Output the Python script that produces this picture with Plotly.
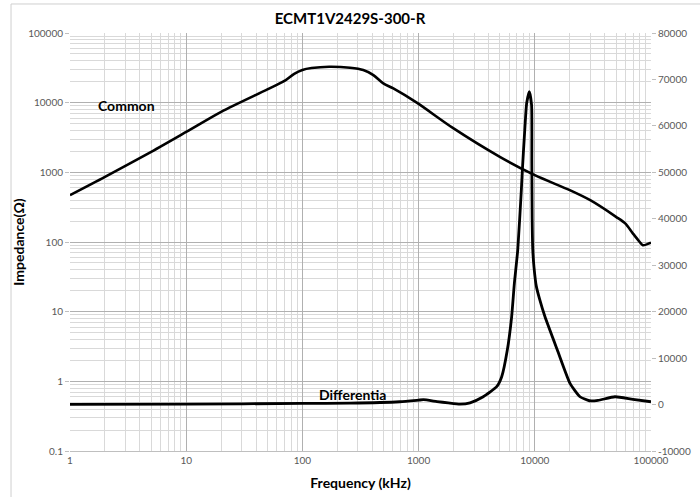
import plotly.graph_objects as go

title_text = "ECMT1V2429S-300-R"

# Common mode impedance (left log axis)
common_freq = [1, 2, 5, 10, 20, 50, 70, 85, 100, 120, 170, 257, 334, 408, 497, 606, 964,
               2000, 5000, 10000, 20000, 30000, 50000, 60000, 70000, 80000, 85000, 100000]
common_imp = [470, 860, 1970, 3800, 7400, 15500, 20500, 26000, 29500, 31400, 32800, 31700, 29400,
              24900, 18900, 16000, 10000, 4270, 1670, 910, 555, 398, 230, 185,
              132, 100, 90, 98]

# Differential impedance (right linear axis)
diff_freq = [1, 10, 100, 256, 690, 1000, 1100, 1440, 1800, 2270, 2770, 3600, 4700, 5190,
             5800, 6320, 6670, 7130, 7660, 7815, 8130, 8510, 8970, 9380, 9430, 9490, 9600,
             9850, 10300, 11000, 12240, 15630, 20090, 24500, 29500, 35000, 49000, 70000, 100000]
diff_imp = [50, 80, 250, 300, 600, 950, 1050, 650, 350, 100, 380, 1680, 3840, 5990,
            11740, 18900, 26100, 33270, 46200, 50500, 57670, 64860, 67360, 64500, 52000,
            40000, 33500, 29500, 25500, 22700, 18900, 11740, 4570, 1680, 820, 900, 1680, 1100, 600]

x_ticks = [1, 10, 100, 1000, 10000, 100000]
x_ticktext = ["1", "10", "100", "1000", "10000", "100000"]
y_ticks = [0.1, 1, 10, 100, 1000, 10000, 100000]
y_ticktext = ["0.1", "1", "10", "100", "1000", "10000", "100000"]
y2_ticks = [-10000, 0, 10000, 20000, 30000, 40000, 50000, 60000, 70000, 80000]
y2_ticktext = ["-10000", "0", "10000", "20000", "30000", "40000", "50000", "60000", "70000", "80000"]

FONT = "Lato"
fig = go.Figure()
fig.add_trace(go.Scatter(x=common_freq, y=common_imp, mode="lines", name="Common",
                         line=dict(color="black", width=2.6, shape="spline", smoothing=0.8),
                         yaxis="y"))
fig.add_trace(go.Scatter(x=diff_freq, y=diff_imp, mode="lines", name="Differentia",
                         line=dict(color="black", width=2.8, shape="spline", smoothing=0.5),
                         yaxis="y2"))

fig.update_layout(
    width=700, height=497,
    margin=dict(l=70, r=49, t=33, b=46, autoexpand=False),
    paper_bgcolor="white", plot_bgcolor="white",
    showlegend=False,
    font=dict(family=FONT, color="#595959", size=10),
    title=dict(text="<b>" + title_text + "</b>", x=0.5, xanchor="center", y=0.963,
               yanchor="middle", font=dict(family=FONT, size=15, color="black")),
    xaxis=dict(type="log", range=[0, 5], tickvals=x_ticks, ticktext=x_ticktext,
               automargin=False,
               showgrid=True, gridcolor="#b0b0b0", gridwidth=1,
               minor=dict(dtick="D1", showgrid=True, gridcolor="#d9d9d9", gridwidth=1),
               showline=True, linecolor="#bfbfbf", ticks="", zeroline=False,
               title=dict(text="<b>Frequency (kHz)</b>", font=dict(family=FONT, size=14, color="black"),
                          standoff=13)),
    yaxis=dict(type="log", range=[-1, 5], tickvals=y_ticks, ticktext=y_ticktext,
               automargin=False,
               showgrid=True, gridcolor="#b0b0b0", gridwidth=1,
               minor=dict(dtick="D1", showgrid=True, gridcolor="#d9d9d9", gridwidth=1),
               showline=False, ticks="outside", ticklen=4, tickcolor="#bfbfbf", zeroline=False,
               title=dict(text="<b>Impedance(Ω)</b>", font=dict(family=FONT, size=14, color="black"),
                          standoff=0)),
    yaxis2=dict(overlaying="y", side="right", range=[-10000, 80000], tickvals=y2_ticks,
                ticktext=y2_ticktext, automargin=False,
                showgrid=False, zeroline=False, showline=False, ticks="outside", ticklen=4,
                tickcolor="#bfbfbf"),
    annotations=[
        dict(text="<b>Common</b>", x=0.0981, y=0.8254, xref="paper", yref="paper",
             xanchor="center", yanchor="middle",
             showarrow=False, font=dict(family=FONT, size=14, color="black")),
        dict(text="<b>Differentia</b>", x=0.4854, y=0.134, xref="paper", yref="paper",
             xanchor="center", yanchor="middle",
             showarrow=False, font=dict(family=FONT, size=14, color="black")),
    ],
    shapes=[
        dict(type="rect", xref="paper", yref="paper", x0=-0.1015, x1=1.1, y0=-0.2, y1=1.0694,
             line=dict(color="#cfcfcf", width=1), layer="below"),
    ],
)

fig.write_html("out.html", config={"displayModeBar": False},
               post_script="document.body.style.margin='0';document.body.style.padding='0';")
